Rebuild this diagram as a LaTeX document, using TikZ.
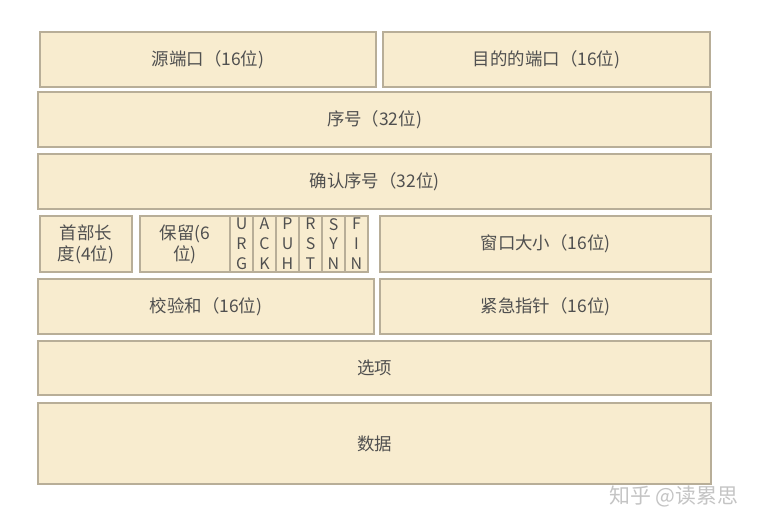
\documentclass[tikz,border=0pt]{standalone}
\usepackage{fontspec}
\setmainfont{Noto Sans CJK SC}
\definecolor{boxfill}{HTML}{F8ECCF}
\definecolor{boxline}{HTML}{B8AE98}
\definecolor{txt}{HTML}{505050}
\definecolor{mark}{HTML}{C4C4C4}
\begin{document}
\begin{tikzpicture}[x=1bp,y=-1bp,
  field/.style={draw=boxline, fill=boxfill, line width=1.3bp, inner sep=0pt,
    text=txt, align=center, font=\fontsize{17.5}{21}\selectfont},
  flagbox/.style={field, minimum width=23bp, minimum height=56bp,
    font=\fontsize{16}{20}\selectfont}]
  \useasboundingbox (0,0) rectangle (757,529);
  % first row: ports
  \node[field, minimum width=336bp, minimum height=55bp] (src) at (208,59.5) {源端口（16位)};
  \node[field, minimum width=327bp, minimum height=55bp] (dst) at (546.5,59.5) {目的的端口（16位)};
  % sequence numbers
  \node[field, minimum width=673bp, minimum height=55bp] (seq) at (374.5,119.5) {序号（32位)};
  \node[field, minimum width=673bp, minimum height=55bp] (ack) at (374.5,181.5) {确认序号（32位)};
  % header length, reserved, flags, window
  \node[field, minimum width=92bp, minimum height=56bp] (hlen) at (86,244) {首部长\\度(4位)};
  \node[field, minimum width=90bp, minimum height=56bp] (resv) at (185,244) {保留(6\\位)};
  \foreach \f [count=\i from 0] in {U\\R\\G, A\\C\\K, P\\U\\H, R\\S\\T, S\\Y\\N, F\\I\\N}
    \node[flagbox] (flag\i) at (241.5+23*\i,244) {\f};
  \node[field, minimum width=331bp, minimum height=56bp] (win) at (545.5,244) {窗口大小（16位)};
  % checksum, urgent pointer
  \node[field, minimum width=336bp, minimum height=55bp] (chk) at (206,306.5) {校验和（16位)};
  \node[field, minimum width=331bp, minimum height=55bp] (urg) at (545.5,306.5) {紧急指针（16位)};
  % options and data
  \node[field, minimum width=673bp, minimum height=54bp] (opt) at (374.5,368) {选项};
  \node[field, minimum width=673bp, minimum height=81bp] (data) at (374.5,443.5) {数据};
  % watermark
  \node[text=mark, font=\fontsize{21}{24}\selectfont, anchor=east] (wm) at (742,497) {知乎 @读累思};
\end{tikzpicture}
\end{document}
